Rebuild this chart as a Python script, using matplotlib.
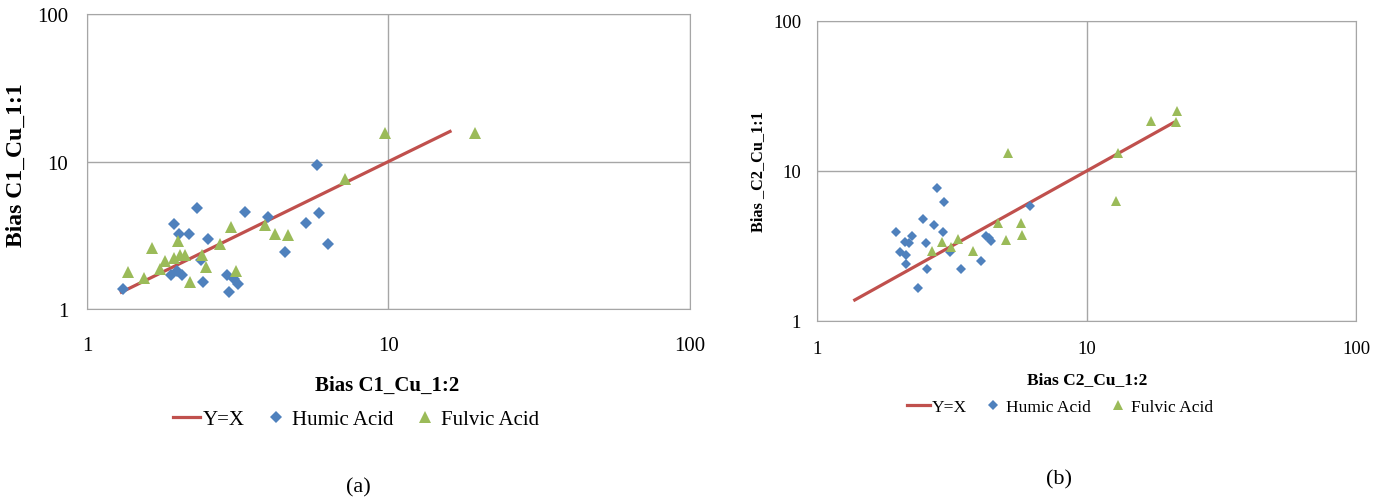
import matplotlib
matplotlib.use("Agg")
import matplotlib.pyplot as plt
from matplotlib.lines import Line2D

plt.rcParams["font.family"] = ["Liberation Serif", "DejaVu Serif"]

BLUE  = "#4F81BD"
GREEN = "#9BBB59"
RED   = "#C0504D"
GRID  = "#A6A6A6"

# ── panel (a): C1 ─────────────────────────────────────────────────────────────
a_line_x = [1.3, 16.0]
a_humic_x = [1.32, 5.79, 2.31, 3.33, 3.99, 5.87, 5.33, 1.94, 2.02, 2.18, 2.52,
             6.30, 4.55, 2.38, 1.99, 1.90, 2.07, 2.43, 2.92, 3.07, 3.17, 2.96]
a_humic_y = [1.37, 9.44, 4.84, 4.52, 4.18, 4.48, 3.80, 3.75, 3.22, 3.20, 2.96,
             2.74, 2.42, 2.14, 1.82, 1.69, 1.69, 1.53, 1.71, 1.60, 1.48, 1.31]
a_fulvic_x = [9.72, 19.4, 7.19, 3.00, 3.90, 4.21, 4.63, 2.77, 2.00, 1.64, 2.41,
              2.03, 2.11, 1.94, 1.82, 1.74, 2.49, 3.11, 1.37, 1.55, 2.19]
a_fulvic_y = [15.5, 15.7, 7.58, 3.59, 3.73, 3.24, 3.19, 2.74, 2.90, 2.59, 2.34,
              2.31, 2.31, 2.23, 2.13, 1.87, 1.94, 1.82, 1.78, 1.63, 1.53]

# ── panel (b): C2 ─────────────────────────────────────────────────────────────
b_line_x = [1.38, 21.0]
b_humic_x = [2.79, 2.95, 2.47, 2.71, 2.92, 1.97, 2.25, 2.12, 2.19, 2.53, 2.03,
             2.14, 2.13, 2.56, 2.37, 3.10, 3.43, 4.07, 4.24, 4.33, 4.43, 6.19]
b_humic_y = [7.70, 6.24, 4.79, 4.37, 3.90, 3.90, 3.70, 3.38, 3.29, 3.33, 2.90,
             2.75, 2.41, 2.23, 1.65, 2.90, 2.23, 2.51, 3.70, 3.56, 3.43, 5.81]
b_fulvic_x = [21.7, 17.3, 21.5, 13.1, 5.12, 12.8, 4.68, 5.72, 5.77, 5.04, 3.33,
              2.91, 3.15, 2.67, 3.80]
b_fulvic_y = [25.2, 21.7, 21.1, 13.2, 13.2, 6.28, 4.48, 4.48, 3.74, 3.47, 3.52,
              3.38, 3.13, 2.92, 2.92]

ticks = [1, 10, 100]
tick_labels = ["1", "10", "100"]
legend_names = ["Y=X", "Humic Acid", "Fulvic Acid"]


def draw_panel(ax, line_x, hx, hy, fx, fy, xlabel, ylabel, cfg):
    ax.set_xscale("log"); ax.set_yscale("log")
    ax.set_xlim(1, 100); ax.set_ylim(1, 100)
    ax.set_xticks(ticks); ax.set_xticklabels(tick_labels)
    ax.set_yticks(ticks); ax.set_yticklabels(tick_labels)
    ax.minorticks_off()
    ax.tick_params(length=0, labelsize=cfg["tick_fs"])
    ax.tick_params(axis="x", pad=cfg["xpad"])
    ax.tick_params(axis="y", pad=cfg["ypad"])
    ax.grid(True, color=GRID, linewidth=1)
    for s in ax.spines.values():
        s.set_color(GRID)
    ax.plot(line_x, line_x, color=RED, linewidth=2.3, zorder=2)
    ax.plot(hx, hy, "D", color=BLUE, markersize=cfg["ms"], markeredgewidth=0, zorder=3)
    ax.plot(fx, fy, "^", color=GREEN, markersize=cfg["ms"] + 2, markeredgewidth=0, zorder=3)
    ax.set_xlabel(xlabel, fontsize=cfg["xlab_fs"], fontweight="bold", va="center")
    ax.xaxis.set_label_coords(*cfg["xlab_pos"])
    ax.set_ylabel(ylabel, fontsize=cfg["ylab_fs"], fontweight="bold", va="center")
    ax.yaxis.set_label_coords(*cfg["ylab_pos"])


fig = plt.figure(figsize=(13.86, 5.02), dpi=100)
ax_a = fig.add_axes([0.0628, 0.3825, 0.435, 0.5875])
ax_b = fig.add_axes([0.5895, 0.3586, 0.389, 0.5976])

cfg_a = dict(tick_fs=15, xpad=19.5, ypad=13.5, ms=6.5, xlab_fs=15, ylab_fs=17,
             xlab_pos=(0.4975, -0.258), ylab_pos=(-0.117, 0.49))
cfg_b = dict(tick_fs=13.5, xpad=14, ypad=11.5, ms=5.5, xlab_fs=12.5, ylab_fs=11.7,
             xlab_pos=(0.501, -0.193), ylab_pos=(-0.1085, 0.5))

draw_panel(ax_a, a_line_x, a_humic_x, a_humic_y, a_fulvic_x, a_fulvic_y,
           "Bias C1_Cu_1:2", "Bias C1_Cu_1:1", cfg_a)
draw_panel(ax_b, b_line_x, b_humic_x, b_humic_y, b_fulvic_x, b_fulvic_y,
           "Bias C2_Cu_1:2", "Bias _C2_Cu_1:1", cfg_b)


def add_legend(center, fs, ms):
    handles = [
        Line2D([], [], color=RED, linewidth=2.3),
        Line2D([], [], marker="D", color=BLUE, linestyle="none", markersize=ms * 0.75,
               markeredgewidth=0),
        Line2D([], [], marker="^", color=GREEN, linestyle="none", markersize=ms,
               markeredgewidth=0),
    ]
    fig.legend(handles, legend_names, loc="center", bbox_to_anchor=center,
               ncol=3, frameon=False, fontsize=fs, handlelength=1.3,
               handletextpad=0.12, columnspacing=0.85, borderpad=0)


add_legend((356 / 1386, 1 - 420 / 502), 15, 8)
add_legend((1060 / 1386, 1 - 408 / 502), 12.6, 7)

fig.text(358 / 1386, 1 - 488 / 502, "(a)", ha="center", va="center", fontsize=16)
fig.text(1059 / 1386, 1 - 480 / 502, "(b)", ha="center", va="center", fontsize=16)

fig.savefig("out.png", dpi=100)
